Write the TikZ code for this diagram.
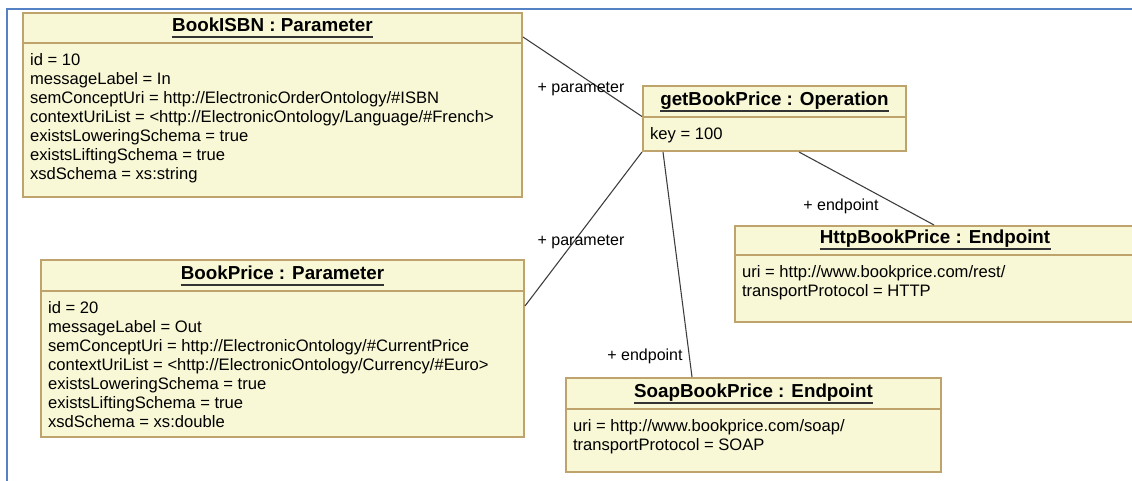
\documentclass[tikz,border=0pt]{standalone}
\usepackage{fontspec}
\setmainfont{Liberation Sans}
\usetikzlibrary{fit,calc}
\definecolor{boxfill}{RGB}{248,248,214}
\definecolor{boxedge}{RGB}{190,163,108}
\definecolor{frameblue}{RGB}{84,130,196}
\definecolor{conn}{RGB}{60,60,60}
\tikzset{
  umlbox/.style={draw=boxedge, fill=boxfill, line width=1.5pt, inner sep=0pt},
  divline/.style={draw=boxedge, line width=1.2pt},
  titletext/.style={font=\fontsize{14.1}{16}\selectfont\bfseries, inner sep=0pt, anchor=base},
  uline/.style={draw=black!80, line width=1.3pt},
  bodytext/.style={font=\fontsize{12.45}{14.3}\selectfont, inner sep=0pt, anchor=base west},
  rolelabel/.style={font=\fontsize{12}{14}\selectfont, inner sep=0pt},
  connector/.style={draw=conn, line width=0.8pt},
}
% #1 name, #2 x1, #3 y1, #4 x2, #5 y2, #6 divider y, #7 title, #8 body lines
\newcommand\umlinstance[8]{%
  \node[umlbox, fit={(#2,#3) (#4,#5)}] (#1) {};
  \draw[divline] (#2,#6) -- (#4,#6);
  \node[titletext] (#1-t) at ({(#2+#4)/2},{#6-11.5}) {#7};
  \draw[uline] ([yshift=-4pt]#1-t.base west) -- ([yshift=-4pt]#1-t.base east);
  \node[bodytext] (#1-b) at ({#2+6.8},{#6+22.5}) {\begin{tabular}[t]{@{}l@{}}#8\end{tabular}};
}
\begin{document}
\begin{tikzpicture}[x=0.75pt,y=-0.75pt]
\useasboundingbox (0,0) rectangle (1132,481);
\fill[white] (0,0) rectangle (1132,481);
\draw[frameblue, line width=1.6pt] (7,490) -- (7,9) -- (1140,9);

\umlinstance{isbn}{23}{13}{522}{197}{43}{BookISBN : Parameter}{%
id = 10\\
messageLabel = In\\
semConceptUri = http://ElectronicOrderOntology/\#ISBN\\
contextUriList = <http://ElectronicOntology/Language/\#French>\\
existsLoweringSchema = true\\
existsLiftingSchema = true\\
xsdSchema = xs:string}

\umlinstance{price}{41}{260}{524}{437}{291}{BookPrice : Parameter}{%
id = 20\\
messageLabel = Out\\
semConceptUri = http://ElectronicOntology/\#CurrentPrice\\
contextUriList = <http://ElectronicOntology/Currency/\#Euro>\\
existsLoweringSchema = true\\
existsLiftingSchema = true\\
xsdSchema = xs:double}

\umlinstance{op}{643}{86}{906}{151}{117}{getBookPrice : Operation}{%
key = 100}

\umlinstance{http}{735}{226}{1135}{322}{255}{HttpBookPrice : Endpoint}{%
uri = http://www.bookprice.com/rest/\\
transportProtocol = HTTP}

\umlinstance{soap}{566}{378}{941}{472}{409}{SoapBookPrice : Endpoint}{%
uri = http://www.bookprice.com/soap/\\
transportProtocol = SOAP}

\draw[connector] ($(isbn.north east)+(0,25)$) -- ($(op.north west)+(0,31.5)$);
\draw[connector] (op.south west) -- ($(price.north east)+(0,47)$);
\draw[connector] ($(op.south west)+(21,0)$) -- ($(soap.north west)+(127,0)$);
\draw[connector] ($(op.south west)+(157,0)$) -- ($(http.north west)+(200,0)$);

\node[rolelabel] (l1) at (581,89) {+ parameter};
\node[rolelabel] (l2) at (581,242) {+ parameter};
\node[rolelabel] (l3) at (841,206) {+ endpoint};
\node[rolelabel] (l4) at (645,356) {+ endpoint};
\end{tikzpicture}
\end{document}
